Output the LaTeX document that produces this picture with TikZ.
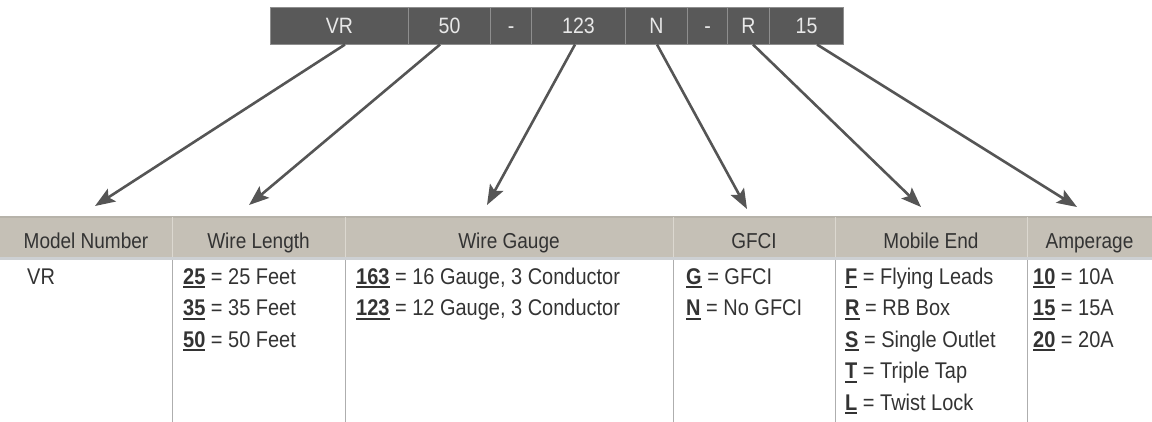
\documentclass[tikz,border=0pt]{standalone}
\usepackage{fontspec}
\setmainfont{Liberation Sans}[FakeStretch=0.88]
\usetikzlibrary{arrows.meta}
\definecolor{barfill}{HTML}{595959}
\definecolor{bartext}{HTML}{E8E8E8}
\definecolor{barline}{HTML}{8E8E8E}
\definecolor{headfill}{HTML}{C5C0B6}
\definecolor{headsep}{HTML}{DCD8D0}
\definecolor{headtop}{HTML}{B7B3AA}
\definecolor{headbot}{HTML}{CDD0D3}
\definecolor{txt}{HTML}{333333}
\definecolor{arrowc}{HTML}{555555}
\definecolor{rulec}{HTML}{AEAEAE}
\newsavebox\cdbox
\newcommand{\cd}[1]{\sbox\cdbox{\bfseries #1}\rlap{\rule[-4pt]{\wd\cdbox}{1.8pt}}\usebox\cdbox}
\begin{document}
\begin{tikzpicture}[x=1pt,y=-1pt,
  cell/.style={fill=barfill, draw=barline, line width=1pt, text=bartext, minimum height=37pt,
    inner sep=0pt, text height=15.5pt, text depth=0pt, font=\fontsize{22.2}{24}\selectfont, anchor=north west},
  headcell/.style={fill=headfill, minimum height=40pt, inner sep=0pt, anchor=north west},
  headtext/.style={text=txt, inner sep=0pt, anchor=base, font=\fontsize{21.6}{24}\selectfont},
  bt/.style={text=txt, inner sep=0pt, anchor=base west, font=\fontsize{22.7}{24}\selectfont},
  arr/.style={draw=arrowc, line width=2.6pt, -{Stealth[length=20pt,width=15pt,inset=4pt]}},
  hsep/.style={draw=headsep, line width=1.5pt},
  bsep/.style={draw=rulec, line width=1.3pt}]
\useasboundingbox (0,0) rectangle (1152,421);

% ---- code bar ----
\node[cell, minimum width=138pt] (cVR) at (270,7) {VR};
\node[cell, minimum width=82pt] (c50) at (408,7) {50};
\node[cell, minimum width=41pt] (cd1) at (490,7) {-};
\node[cell, minimum width=94pt] (c123) at (531,7) {123};
\node[cell, minimum width=62pt] (cN) at (625,7) {N};
\node[cell, minimum width=40pt] (cd2) at (687,7) {-};
\node[cell, minimum width=42pt] (cR) at (727,7) {R};
\node[cell, minimum width=74pt] (c15) at (769,7) {15};

% ---- header ----
\node[headcell, minimum width=172pt] (h1) at (0,217) {};
\node[headcell, minimum width=173pt] (h2) at (172,217) {};
\node[headcell, minimum width=328pt] (h3) at (345,217) {};
\node[headcell, minimum width=162pt] (h4) at (673,217) {};
\node[headcell, minimum width=192pt] (h5) at (835,217) {};
\node[headcell, minimum width=125pt] (h6) at (1027,217) {};
\draw[headtop, line width=1.2pt] (h1.north west) -- (h6.north east);
\draw[headbot, line width=2.4pt] ([yshift=-1pt]h1.south west) -- ([yshift=-1pt]h6.south east);
\foreach \h in {h1,h2,h3,h4,h5} {\draw[hsep] (\h.north east) -- (\h.south east);}
\node[headtext] (t1) at (86,248) {Model Number};
\node[headtext] (t2) at (258.5,248) {Wire Length};
\node[headtext] (t3) at (509,248) {Wire Gauge};
\node[headtext] (t4) at (754,248) {GFCI};
\node[headtext] (t5) at (931,248) {Mobile End};
\node[headtext] (t6) at (1089.5,248) {Amperage};

% ---- body separators ----
\foreach \h in {h1,h2,h3,h4,h5} {\draw[bsep] ([yshift=-2.5pt]\h.south east) -- ++(0,170);}

% ---- body text ----
\node[bt] (m1) at (27,284) {VR};
\node[bt] (l1) at (183,284) {\cd{25} = 25 Feet};
\node[bt] (l2) at (183,315.5) {\cd{35} = 35 Feet};
\node[bt] (l3) at (183,347) {\cd{50} = 50 Feet};
\node[bt] (g1) at (356,284) {\cd{163} = 16 Gauge, 3 Conductor};
\node[bt] (g2) at (356,315.5) {\cd{123} = 12 Gauge, 3 Conductor};
\node[bt] (f1) at (686,284) {\cd{G} = GFCI};
\node[bt] (f2) at (686,315.5) {\cd{N} = No GFCI};
\node[bt] (e1) at (845,284) {\cd{F} = Flying Leads};
\node[bt] (e2) at (845,315.5) {\cd{R} = RB Box};
\node[bt] (e3) at (845,347) {\cd{S} = Single Outlet};
\node[bt] (e4) at (845,378.5) {\cd{T} = Triple Tap};
\node[bt] (e5) at (845,410) {\cd{L} = Twist Lock};
\node[bt] (a1) at (1033,284) {\cd{10} = 10A};
\node[bt] (a2) at (1033,315.5) {\cd{15} = 15A};
\node[bt] (a3) at (1033,347) {\cd{20} = 20A};

% ---- arrows ----
\coordinate (sVR) at (345,44.5);
\coordinate (s50) at (440,44.5);
\coordinate (s123) at (575,44.5);
\coordinate (sN) at (657,44.5);
\coordinate (sR) at (753,44.5);
\coordinate (s15) at (817,44.5);
\coordinate (eVR) at (95,206);
\coordinate (e50) at (249,205);
\coordinate (e123) at (487,205);
\coordinate (eN) at (747,209);
\coordinate (eR) at (921,207);
\coordinate (e15) at (1077,207);
\draw[arr] (sVR) -- (eVR);
\draw[arr] (s50) -- (e50);
\draw[arr] (s123) -- (e123);
\draw[arr] (sN) -- (eN);
\draw[arr] (sR) -- (eR);
\draw[arr] (s15) -- (e15);
\end{tikzpicture}
\end{document}
